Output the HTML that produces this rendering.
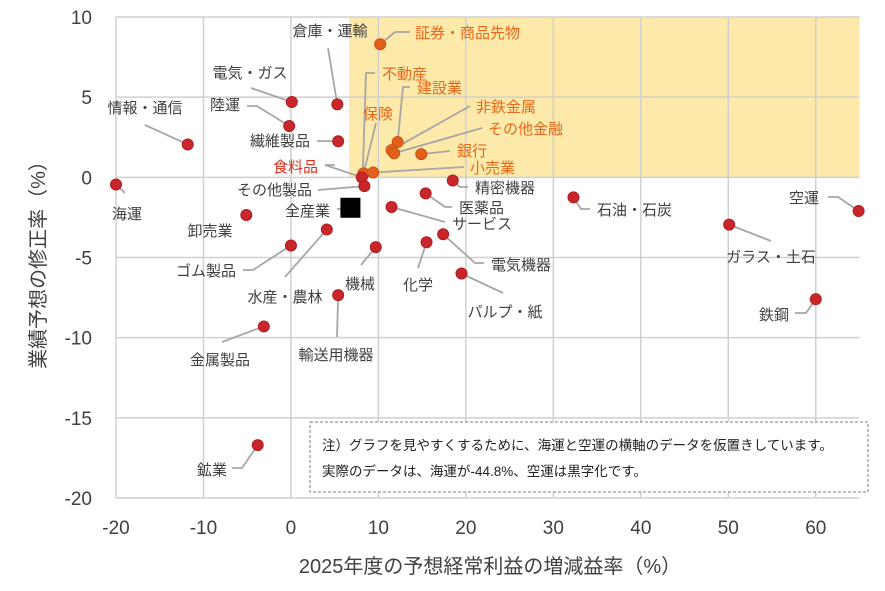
<!DOCTYPE html>
<html><head><meta charset="utf-8"><style>
body{margin:0;background:#fff}
svg{display:block;font-family:"Liberation Sans","Noto Sans CJK JP",sans-serif}
</style></head><body>
<svg id="chart" width="885" height="591" viewBox="0 0 885 591"></svg>
<script>
const names=["証券・商品先物","倉庫・運輸","電気・ガス","陸運","情報・通信","繊維製品","海運","不動産","保険","建設業","非鉄金属","その他金融","銀行","小売業","食料品","その他製品","精密機器","医薬品","サービス","卸売業","水産・農林","ゴム製品","機械","化学","電気機器","パルプ・紙","輸送用機器","金属製品","石油・石炭","ガラス・土石","空運","鉄鋼","鉱業"];
const xVals=[10.2,5.3,0.1,-0.2,-11.8,5.4,-20,8.2,8.3,12.2,11.5,11.8,14.9,9.4,8.1,8.4,18.5,15.4,11.5,-5.1,4.1,0,9.7,15.5,17.4,19.5,5.4,-3.1,32.3,50.1,64.9,60,-3.8];
const yVals=[8.3,4.55,4.7,3.2,2.05,2.25,-0.45,0.1,0.25,2.2,1.7,1.5,1.45,0.3,0,-0.55,-0.2,-1.0,-1.85,-2.35,-3.25,-4.25,-4.35,-4.05,-3.55,-6.0,-7.35,-9.3,-1.25,-2.95,-2.1,-7.6,-16.7];
const orangeSet=[1,0,0,0,0,0,0,1,1,1,1,1,1,1,0,0,0,0,0,0,0,0,0,0,0,0,0,0,0,0,0,0,0];
const totalX=[6.8], totalY=[-1.9];
const xTicks=[-20,-10,0,10,20,30,40,50,60];
const yTicks=[10,5,0,-5,-10,-15,-20];
// annotation layout: [labelX,labelY,anchor,elbow points...]
const layout=[
[415,38,"start",[[410,32],[395,32]]],
[330,36,"middle",[[328,48]]],
[250,78,"middle",[[251,88]]],
[225,110,"middle",[[247,106],[257,106]]],
[145,113,"middle",[[145,125]]],
[310,146,"end",[[317,141]]],
[127,219,"middle",[[125,193]]],
[382,79,"start",[[375,73],[366,73]]],
[378,119,"middle",[[376,123]]],
[417,93,"start",[[410,87],[403,87]]],
[476,112,"start",[[470,106]]],
[488,134,"start",[[482,128]]],
[457,156,"start",[[450,151]]],
[470,173,"start",[[464,167]]],
[318,172,"end",[[335,165],[325,165]]],
[312,195,"end",[[318,190]]],
[475,193,"start",[[468,187],[460,187]]],
[459,213,"start",[[452,207],[445,207]]],
[452,229,"start",[[445,222]]],
[210,236,"middle",[]],
[285,302,"middle",[[285,277]]],
[236,276,"end",[[243,270],[253,270]]],
[360,289,"middle",[[361,265]]],
[418,290,"middle",[[418,268]]],
[491,270,"start",[[484,263],[475,263]]],
[505,317,"middle",[[503,293]]],
[336,360,"middle",[[337,337]]],
[220,365,"middle",[[222,342]]],
[597,215,"start",[[590,209],[581,209]]],
[771,262,"middle",[[771,241]]],
[804,203,"middle",[[828,197],[838,197]]],
[774,320,"middle",[[795,313],[806,313]]],
[212,475,"middle",[[232,468],[242,468]]]
];
const NS="http://www.w3.org/2000/svg";
const svg=document.getElementById("chart");
const X0=116,X1=859.5,Y0=17,Y1=498;
const sx=v=>X0+(v+20)*(X1-X0)/85;
const sy=v=>Y0+(10-v)*(Y1-Y0)/30;
function mk(t,a,p){const e=document.createElementNS(NS,t);for(const k in a)e.setAttribute(k,a[k]);(p||svg).appendChild(e);return e;}
// shaded region
let r=mk("rect",{x:349,y:sy(10),width:X1-349,height:sy(0)-sy(10),fill:"#fde9a9"});


// grid
xTicks.forEach(t=>{const l=mk("line",{x1:sx(t),x2:sx(t),y1:Y0,y2:Y1,stroke:"#d0d0d0","stroke-width":1.5});


const tx=mk("text",{x:sx(t),y:534,"text-anchor":"middle","font-size":19,fill:"#404040"});tx.textContent=t;

});
yTicks.forEach(t=>{const l=mk("line",{x1:X0,x2:X1,y1:sy(t),y2:sy(t),stroke:"#d0d0d0","stroke-width":1.5});


const tx=mk("text",{x:92,y:sy(t)+7,"text-anchor":"end","font-size":19,fill:"#404040"});tx.textContent=t;

});
// leaders & labels
names.forEach((n,i)=>{const L=layout[i];const px=sx(xVals[i]),py=sy(yVals[i]);
if(L[3].length){const pts=[[px,py]].concat(L[3].slice().reverse()).map(p=>p.join(",")).join(" ");
const pl=mk("polyline",{points:pts,fill:"none",stroke:"#a6a6a6","stroke-width":1.8});

}
const col=i===14?"#e0301e":(orangeSet[i]?"#e8681c":"#404040");
const t=mk("text",{x:L[0],y:L[1],"text-anchor":L[2],"font-size":15,fill:col});t.textContent=n;

});
names.forEach((n,i)=>{const c=mk("circle",{cx:sx(xVals[i]),cy:sy(yVals[i]),r:5.5,fill:orangeSet[i]?"#e0601c":"#c8262a",stroke:orangeSet[i]?"#d05010":"#b01e22","stroke-width":1});

});
// total
const tl=mk("line",{x1:337,y1:209,x2:sx(totalX[0]),y2:sy(totalY[0]),stroke:"#a6a6a6","stroke-width":1.8});


const tt=mk("text",{x:330,y:216,"text-anchor":"end","font-size":15,fill:"#404040"});tt.textContent="全産業";


const sq=mk("rect",{x:sx(totalX[0])-10,y:sy(totalY[0])-10,width:20,height:20,fill:"#000"});


// note box
const nb=mk("rect",{x:310,y:422,width:558,height:70,fill:"#fff",stroke:"#7f7f7f","stroke-dasharray":"3,2","stroke-width":1});


const n1=mk("text",{x:322,y:450,"font-size":13.5,fill:"#222"});n1.textContent="注）グラフを見やすくするために、海運と空運の横軸のデータを仮置きしています。";


const n2=mk("text",{x:322,y:476,"font-size":13.5,fill:"#222"});n2.textContent="実際のデータは、海運が-44.8%、空運は黒字化です。";


// axis titles
const xt=mk("text",{x:490,y:573,"text-anchor":"middle","font-size":20,fill:"#404040"});xt.textContent="2025年度の予想経常利益の増減益率（%）";


const yt=mk("text",{x:0,y:0,"text-anchor":"middle","font-size":20,fill:"#404040",transform:"translate(45,260) rotate(-90)"});yt.textContent="業績予想の修正率（%）";


</script>
</body></html>
